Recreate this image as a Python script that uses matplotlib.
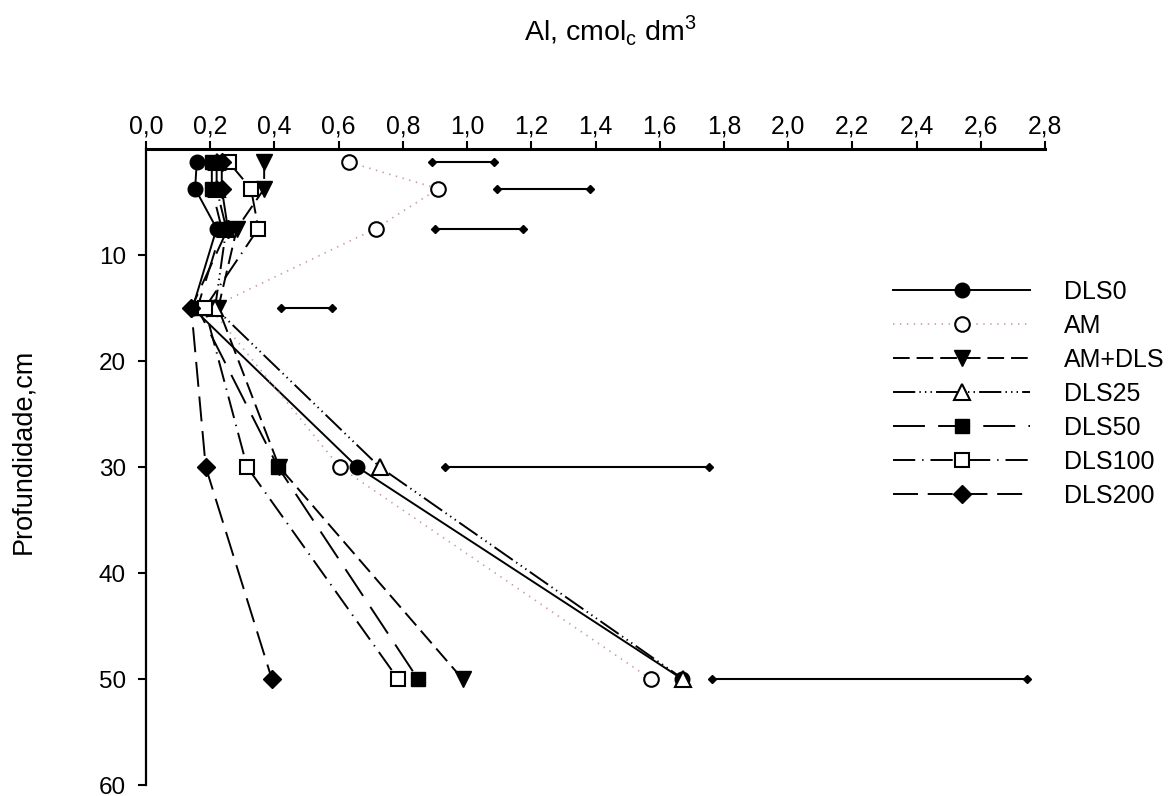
import numpy as np
import matplotlib
matplotlib.use("Agg")
import matplotlib.pyplot as plt
from matplotlib.ticker import FuncFormatter

plt.rcParams['font.family'] = ['Liberation Sans', 'DejaVu Sans']
plt.rcParams['lines.scale_dashes'] = False

# depth (cm) of each sampled layer
depth = [1.25, 3.75, 7.5, 15, 30, 50]

# Al values per treatment
dls0 = [0.158, 0.153, 0.22, 0.145, 0.658, 1.67]
am = [0.633, 0.91, 0.716, 0.20, 0.603, 1.572]
am_dls = [0.368, 0.368, 0.283, 0.225, 0.415, 0.986]
dls25 = [0.22, 0.22, 0.25, 0.215, 0.728, 1.673]
dls50 = [0.205, 0.205, 0.236, 0.16, 0.411, 0.847]
dls100 = [0.258, 0.327, 0.35, 0.183, 0.315, 0.785]
dls200 = [0.236, 0.236, 0.255, 0.141, 0.186, 0.392]

# horizontal bars (LSD) at each depth
bar_lo = [0.89, 1.092, 0.90, 0.42, 0.93, 1.762]
bar_hi = [1.083, 1.382, 1.173, 0.58, 1.752, 2.743]

labels = ['DLS0', 'AM', 'AM+DLS', 'DLS25', 'DLS50', 'DLS100', 'DLS200']

fig = plt.figure(figsize=(11.73, 7.96), dpi=100)
ax = fig.add_axes([146 / 1173, 1 - 785 / 796, 899 / 1173, 636 / 796])

ms = 10.5
ax.plot(dls0, depth, color='black', lw=1.4, ls='-', marker='o', ms=ms,
        mfc='black', mec='black', label=labels[0])
ax.plot(am, depth, color='#c89a9a', lw=1.2, ls=(0, (1, 4)), marker='o', ms=ms,
        mfc='white', mec='black', mew=1.5, label=labels[1])
ax.plot(am_dls, depth, color='black', lw=1.4, ls=(0, (12, 5)), marker='v', ms=ms + 1,
        mfc='black', mec='black', label=labels[2])
ax.plot(dls25, depth, color='black', lw=1.4, ls=(0, (16, 3, 1, 3, 1, 3, 1, 3)), marker='^',
        ms=ms + 1, mfc='white', mec='black', mew=1.5, label=labels[3])
ax.plot(dls50, depth, color='black', lw=1.4, ls=(0, (23, 9.5)), marker='s', ms=ms - 0.5,
        mfc='black', mec='black', label=labels[4])
ax.plot(dls100, depth, color='black', lw=1.4, ls=(0, (16, 5, 1, 5)), marker='s', ms=ms - 0.5,
        mfc='white', mec='black', mew=1.5, label=labels[5])
ax.plot(dls200, depth, color='black', lw=1.4, ls=(0, (18, 7)), marker='D', ms=ms - 1,
        mfc='black', mec='black', label=labels[6])

for lo, hi, d in zip(bar_lo, bar_hi, depth):
    ax.plot([lo, hi], [d, d], color='black', lw=1.5, marker='D', ms=4.5)

ax.set_xlim(0, 2.8)
ax.set_ylim(60, 0)
ax.set_xticks(np.arange(0, 2.81, 0.2))
ax.set_yticks([10, 20, 30, 40, 50, 60])
ax.xaxis.set_major_formatter(FuncFormatter(lambda v, p: f"{v:.1f}".replace('.', ',')))
ax.xaxis.tick_top()
ax.spines['right'].set_visible(False)
ax.spines['bottom'].set_visible(False)
ax.spines['top'].set_linewidth(2.2)
ax.spines['left'].set_linewidth(1.6)
ax.tick_params(axis='x', direction='out', length=5.5, width=1.5, pad=2, labelsize=17.8)
ax.tick_params(axis='y', direction='out', length=5.5, width=1.5, pad=9, labelsize=17.5)

ax.set_ylabel('Profundidade,cm', fontsize=19.5)
ax.yaxis.set_label_coords(-0.122, 0.524)
fig.text(610 / 1173, 1 - 41 / 796, r'Al, cmol$_\mathregular{c}$ dm$^\mathregular{3}$',
         ha='center', va='baseline', fontsize=20.5)

ax.legend(loc='upper left', bbox_to_anchor=((893 - 146) / 899, 1 - (280 - 149) / 636),
          frameon=False, fontsize=18, handlelength=5.48, handletextpad=1.36,
          labelspacing=0.4, borderpad=0, borderaxespad=0)

fig.savefig('out.png', dpi=100)
